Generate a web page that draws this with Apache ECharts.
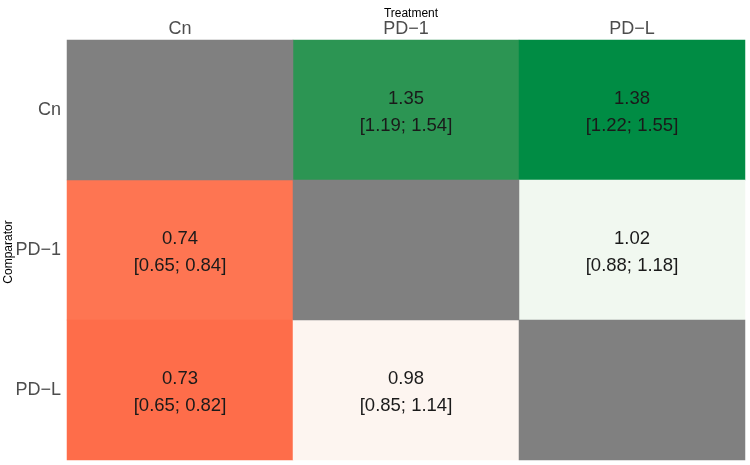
<!DOCTYPE html>
<html>
<head>
<meta charset="utf-8">
<script src="https://cdn.jsdelivr.net/npm/echarts@6/dist/echarts.min.js"></script>
<style>
  html, body { margin: 0; padding: 0; background: #fff; }
  #main { width: 750px; height: 465px; }
</style>
</head>
<body>
<div id="main"></div>
<script>
// treatment on x (top), comparator on y
var treatments = ['Cn', 'PD\u22121', 'PD\u2212L'];
var comparators = ['Cn', 'PD\u22121', 'PD\u2212L'];
// rows = comparator, cols = treatment ; null = diagonal
var estimate = [
    [null, 1.35, 1.38],
    [0.74, null, 1.02],
    [0.73, 0.98, null]
];
var lower = [
    [null, 1.19, 1.22],
    [0.65, null, 0.88],
    [0.65, 0.85, null]
];
var upper = [
    [null, 1.54, 1.55],
    [0.84, null, 1.18],
    [0.82, 1.14, null]
];

var cells = [];
var diag = [];
for (var r = 0; r < comparators.length; r++) {
    for (var c = 0; c < treatments.length; c++) {
        if (estimate[r][c] == null) {
            diag.push([c, r, 0]);
        } else {
            cells.push({
                value: [c, r, estimate[r][c]],
                lo: lower[r][c],
                hi: upper[r][c]
            });
        }
    }
}

var myChart = echarts.init(document.getElementById('main'));
var option = {
    animation: false,
    textStyle: { fontFamily: 'Liberation Sans, Arial, sans-serif' },
    title: {
        text: 'Treatment',
        left: 406,
        top: 3,
        textAlign: 'center',
        textStyle: { fontSize: 12, fontWeight: 'normal', color: '#000' }
    },
    graphic: [{
        type: 'text',
        x: 3,
        y: 252,
        rotation: Math.PI / 2,
        style: {
            text: 'Comparator',
            fontSize: 12,
            fontFamily: 'Liberation Sans, Arial, sans-serif',
            fill: '#000',
            align: 'center',
            verticalAlign: 'top'
        }
    }],
    grid: { left: 67, right: 5, top: 40, bottom: 5, outerBoundsMode: 'none', containLabel: false },
    xAxis: {
        type: 'category',
        position: 'top',
        data: treatments,
        axisLine: { show: false },
        axisTick: { show: false },
        splitLine: { show: false },
        axisLabel: { fontSize: 18, color: '#4d4d4d', margin: 2 }
    },
    yAxis: {
        type: 'category',
        inverse: true,
        data: comparators,
        axisLine: { show: false },
        axisTick: { show: false },
        splitLine: { show: false },
        axisLabel: { fontSize: 18, color: '#4d4d4d', margin: 6 }
    },
    visualMap: {
        type: 'piecewise',
        show: false,
        seriesIndex: 0,
        dimension: 2,
        pieces: [
            { lt: 0.735, color: '#fe6d4a' },
            { gte: 0.735, lt: 0.9, color: '#fe7552' },
            { gte: 0.9, lt: 1.0, color: '#fdf5f0' },
            { gte: 1.0, lt: 1.2, color: '#f1f8f0' },
            { gte: 1.2, lt: 1.365, color: '#2c9553' },
            { gte: 1.365, color: '#008c44' }
        ]
    },
    series: [
        {
            type: 'heatmap',
            data: cells,
            label: {
                show: true,
                fontSize: 18.5,
                color: '#1a1a1a',
                lineHeight: 27,
                offset: [0, 2],
                formatter: function (p) {
                    return p.value[2].toFixed(2) + '\n[' + p.data.lo.toFixed(2) + '; ' + p.data.hi.toFixed(2) + ']';
                }
            },
            emphasis: { disabled: true }
        },
        {
            type: 'heatmap',
            data: diag,
            itemStyle: { color: '#808080' },
            emphasis: { disabled: true }
        }
    ]
};
myChart.setOption(option);
</script>
</body>
</html>
